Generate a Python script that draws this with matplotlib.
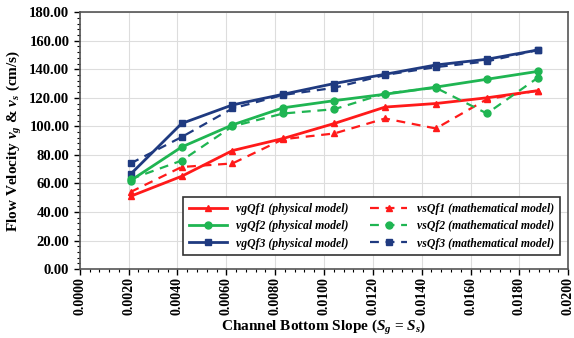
import numpy as np
from matplotlib import pyplot as plt
from matplotlib.ticker import MultipleLocator, FormatStrFormatter

# slopes (Sg = Ss)
slope = [0.00208, 0.00417, 0.00625, 0.00833, 0.01042, 0.01250, 0.01458, 0.01667, 0.01875]

# physical model velocities vg (cm/s)
vg_qf1 = [51, 65, 83, 91.5, 102, 113.5, 116, 120, 125]
vg_qf2 = [62, 85.5, 101, 113, 118, 122.5, 127.5, 133, 138.5]
vg_qf3 = [66.5, 102, 115, 122.5, 130, 136.5, 143, 147, 153.5]

# mathematical model velocities vs (cm/s)
vs_qf1 = [54, 71.5, 74, 91, 95, 105.5, 98.5, 119, 125]
vs_qf2 = [63, 76, 100, 109, 112, 123, 127, 109, 134]
vs_qf3 = [74, 92.5, 112.5, 122, 127, 136, 141.5, 145.5, 153.5]

labels_vg = ['vgQf1 (physical model)', 'vgQf2 (physical model)', 'vgQf3 (physical model)']
labels_vs = ['vsQf1 (mathematical model)', 'vsQf2 (mathematical model)', 'vsQf3 (mathematical model)']
colors = ['#ff1a1a', '#1fb552', '#1f3a80']
markers = ['^', 'o', 's']

plt.rcParams['font.family'] = ['Liberation Serif', 'DejaVu Serif']
plt.rcParams['mathtext.fontset'] = 'custom'
plt.rcParams['mathtext.it'] = 'Liberation Serif:italic:bold'
plt.rcParams['mathtext.rm'] = 'Liberation Serif:bold'
plt.rcParams['mathtext.bf'] = 'Liberation Serif:bold'

fig = plt.figure(figsize=(5.74, 3.38), dpi=100)
ax = fig.add_axes([0.139, 0.204, 0.851, 0.76])

handles = []
for ys, lab, c, m in zip([vg_qf1, vg_qf2, vg_qf3], labels_vg, colors, markers):
    h, = ax.plot(slope, ys, color=c, lw=2, marker=m, markersize=5, label=lab, zorder=3)
    handles.append(h)
for ys, lab, c, m in zip([vs_qf1, vs_qf2, vs_qf3], labels_vs, colors, markers):
    h, = ax.plot(slope, ys, color=c, lw=1.6, ls=(0, (4, 3)), marker=m, markersize=5,
                 label=lab, zorder=3)
    handles.append(h)

ax.set_xlim(0, 0.02)
ax.set_ylim(0, 180)
ax.xaxis.set_major_locator(MultipleLocator(0.002))
ax.xaxis.set_minor_locator(MultipleLocator(0.0004))
ax.yaxis.set_major_locator(MultipleLocator(20))
ax.yaxis.set_minor_locator(MultipleLocator(4))
ax.xaxis.set_major_formatter(FormatStrFormatter('%.4f'))
ax.yaxis.set_major_formatter(FormatStrFormatter('%.2f'))
ax.grid(True, which='major', color='#dddddd', lw=0.8, zorder=0)

for lab in ax.get_xticklabels():
    lab.set_rotation(90)
ax.tick_params(axis='y', which='major', labelsize=10.5, direction='out', length=4, width=1)
ax.tick_params(axis='x', which='major', labelsize=10, direction='out', length=4, width=1, pad=2)
ax.tick_params(axis='both', which='minor', direction='out', length=2, width=0.8)
for lab in ax.get_xticklabels() + ax.get_yticklabels():
    lab.set_fontweight('bold')
for s in ax.spines.values():
    s.set_color('#555555')
    s.set_linewidth(1.2)

ax.set_xlabel('Channel Bottom Slope ($S_g$ = $S_s$)', fontsize=11, fontweight='bold', labelpad=2)
ax.set_ylabel('Flow Velocity $v_g$ & $v_s$ (cm/s)', fontsize=11, fontweight='bold')

leg = ax.legend(handles=handles, ncol=2, loc='lower right', bbox_to_anchor=(0.995, 0.03),
                prop={'family': 'Liberation Serif', 'weight': 'bold', 'style': 'italic', 'size': 8.5},
                fancybox=False, edgecolor='#333333', framealpha=1, handlelength=3.2,
                columnspacing=1.8, labelspacing=0.45, borderpad=0.5)
leg.get_frame().set_linewidth(1.2)

plt.savefig('out.png', dpi=100)
